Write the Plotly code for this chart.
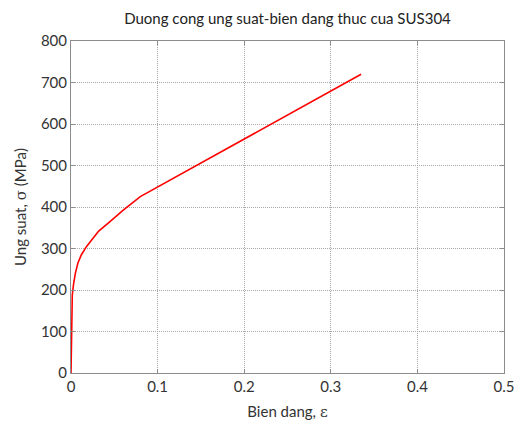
import plotly.graph_objects as go

strain = [0.0, 0.0003, 0.0008, 0.0015, 0.003, 0.005, 0.008, 0.012, 0.018, 0.025, 0.032, 0.045, 0.06, 0.08, 0.335]
stress = [0, 60, 130, 188, 215, 240, 265, 285, 305, 325, 342, 365, 392, 425, 720]

x_ticks = [0, 0.1, 0.2, 0.3, 0.4, 0.5]
x_tick_labels = ["0", "0.1", "0.2", "0.3", "0.4", "0.5"]
y_ticks = [0, 100, 200, 300, 400, 500, 600, 700, 800]

title = "Duong cong ung suat-bien dang thuc cua SUS304"
x_title = 'Bien dang, <span style="font-family:DejaVu Serif">ε</span>'
y_title = 'Ung suat, <span style="font-family:DejaVu Serif">σ</span> (MPa)'

font = "Lato, Open Sans, sans-serif"

fig = go.Figure()
fig.add_trace(go.Scatter(x=strain, y=stress, mode="lines",
                         line=dict(color="#ff0000", width=1.6),
                         showlegend=False, hoverinfo="skip"))

axis_common = dict(
    showline=True, linecolor="#8c8c8c", linewidth=1, mirror="ticks",
    showgrid=True, gridcolor="#a8a8a8", griddash="1px,1px", gridwidth=1,
    ticks="inside", ticklen=4, tickcolor="#8c8c8c",
    zeroline=False, automargin=False,
    tickfont=dict(family=font, size=15, color="#333333"),
)

fig.update_layout(
    width=516, height=427,
    margin=dict(l=71, r=12, t=41, b=54),
    paper_bgcolor="white", plot_bgcolor="white",
    font=dict(family=font, size=15, color="#333333"),
    title=dict(text=title, x=0.5, xanchor="center", y=0.957, yanchor="middle",
               xref="paper", automargin=False,
               font=dict(family=font, size=15, color="#222222")),
    xaxis=dict(range=[0, 0.5], tickvals=x_ticks, ticktext=x_tick_labels,
               title=dict(text=x_title, standoff=12, font=dict(family=font, size=15)),
               **axis_common),
    yaxis=dict(range=[0, 800], tickvals=y_ticks,
               title=dict(text=y_title, standoff=10, font=dict(family=font, size=15)),
               **axis_common),
)

fig.write_html("out.html", config={"displayModeBar": False})

with open("out.html", "r", encoding="utf-8") as f:
    html = f.read()
html = html.replace("<body>", '<body style="margin:0;padding:0;overflow:hidden">', 1)
with open("out.html", "w", encoding="utf-8") as f:
    f.write(html)
